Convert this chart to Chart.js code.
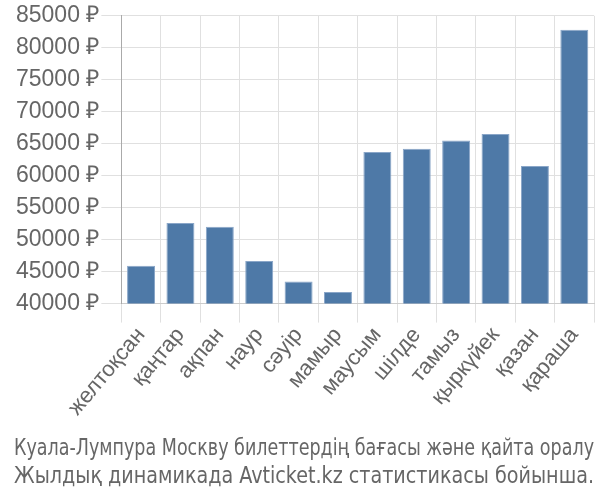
<!DOCTYPE html>
<html lang="kk">
<head>
    <meta charset="UTF-8">
    <title>Билет бағасы</title>
    <script src="https://cdn.jsdelivr.net/npm/chart.js"></script>
    <style>
        body { margin: 0; background: #fff; }
        #wrap { width: 600px; height: 500px; }
    </style>
</head>
<body>
    <div id="wrap"><canvas id="chart"></canvas></div>
    <script>
        // айлар
        const months = ["желтоқсан", "қаңтар", "ақпан", "наур", "сәуір", "мамыр",
            "маусым", "шілде", "тамыз", "қыркүйек", "қазан", "қараша"];
        // баға, ₽
        const prices = [45900, 52600, 52000, 46650, 43450, 41800,
            63700, 64200, 65500, 66500, 61500, 82800];
        const titleLines = ["Куала-Лумпура Москву билеттердің бағасы және қайта оралу",
            "Жылдық динамикада Avticket.kz статистикасы бойынша."];

        new Chart(document.getElementById("chart"), {
            type: "bar",
            data: {
                labels: months,
                datasets: [{
                    data: prices,
                    backgroundColor: "#4e79a7",
                    borderColor: "#8aa6c8",
                    borderWidth: 1,
                    barPercentage: 0.71,
                    categoryPercentage: 1
                }]
            },
            options: {
                responsive: true,
                maintainAspectRatio: false,
                animation: false,
                layout: { padding: { left: 14, right: 6, top: 4, bottom: 0 } },
                plugins: {
                    legend: { display: false },
                    tooltip: { enabled: false },
                    title: {
                        display: true,
                        position: "bottom",
                        text: titleLines,
                        color: "#666",
                        font: { family: "'DejaVu Sans Condensed', 'Liberation Sans Narrow', sans-serif", size: 23, weight: "normal", lineHeight: 1.22 },
                        padding: { top: 14, bottom: 9 }
                    }
                },
                scales: {
                    x: {
                        grid: { color: "#e0e0e0", lineWidth: 1, tickLength: 19 },
                        border: { color: "#ccc" },
                        ticks: {
                            color: "#666",
                            font: { family: "'Liberation Sans', Arial, sans-serif", size: 22 },
                            maxRotation: 50,
                            minRotation: 50,
                            padding: 0
                        }
                    },
                    y: {
                        min: 40000,
                        max: 85000,
                        grid: { color: "#e0e0e0", lineWidth: 1, tickLength: 20 },
                        border: { color: "#aaa", width: 1 },
                        ticks: {
                            stepSize: 5000,
                            color: "#666",
                            font: { family: "'Liberation Sans', Arial, sans-serif", size: 23 },
                            padding: 2,
                            callback: v => v + " ₽"
                        }
                    }
                }
            }
        });
    </script>
</body>
</html>
